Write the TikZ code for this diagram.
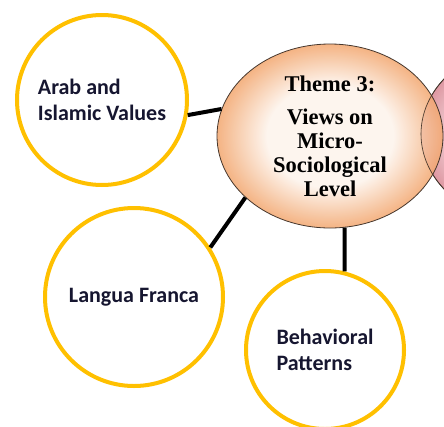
\documentclass[tikz,border=0pt]{standalone}
\usepackage{fontspec}
\setmainfont{Liberation Serif}
\newfontfamily\topicfont{Carlito}
\usetikzlibrary{shapes.geometric}
\definecolor{gold}{RGB}{255,192,0}
\definecolor{eggin}{RGB}{253,243,235}
\definecolor{eggout}{RGB}{242,166,110}
\definecolor{rosein}{RGB}{251,236,240}
\definecolor{roseout}{RGB}{222,152,162}
\definecolor{inkblue}{RGB}{22,22,48}
\definecolor{rim}{RGB}{70,55,45}
\pgfdeclareradialshading{eggshade}{\pgfpoint{0bp}{0bp}}{color(0bp)=(eggin); color(14bp)=(eggin); color(25bp)=(eggout); color(50bp)=(eggout)}
\pgfdeclareradialshading{roseshade}{\pgfpoint{0bp}{0bp}}{color(0bp)=(rosein); color(14bp)=(rosein); color(25bp)=(roseout); color(50bp)=(roseout)}
\tikzset{
  theme/.style={ellipse, draw=rim, line width=0.8pt, shading=eggshade, fill opacity=0.85, text opacity=1,
    minimum width=226pt, minimum height=184pt, inner sep=0pt, align=center,
    font=\fontsize{22.5}{24}\selectfont\bfseries},
  rose/.style={ellipse, draw=rim, line width=0.8pt, shading=roseshade, minimum width=226pt, minimum height=182pt},
  topic/.style={circle, draw=gold, line width=4pt, fill=white, inner sep=0pt, align=left, text=inkblue,
    font=\topicfont\fontsize{22}{26}\selectfont\bfseries},
  link/.style={draw=black, line width=4pt}
}

\begin{document}
\begin{tikzpicture}[x=1pt, y=-1pt]
  \useasboundingbox (0,0) rectangle (444,426);
  \clip (0,0) rectangle (444,426);

  % central theme and the next one peeking in
  \node[rose] (next) at (534,134) {};
  \node[theme] (theme) at (330,136) {Theme 3:\\[9pt]Views on\\Micro-\\Sociological\\Level};
  \draw[rim, line width=0.6pt] (534,134) ellipse [x radius=113pt, y radius=91pt];

  % sub-topics
  \node[topic, minimum size=170pt] (arab) at (102,100) {Arab and\\Islamic Values};
  \node[topic, minimum size=178pt] (langua) at (134,297) {Langua Franca};
  \node[topic, minimum size=158pt] (behav) at (325,350) {Behavioral\\Patterns};

  \draw[link] (arab.-10) -- (theme.166);
  \draw[link] (theme.216) -- (langua.33);
  \draw[link] (theme.-81) -- (behav.76);
\end{tikzpicture}
\end{document}
